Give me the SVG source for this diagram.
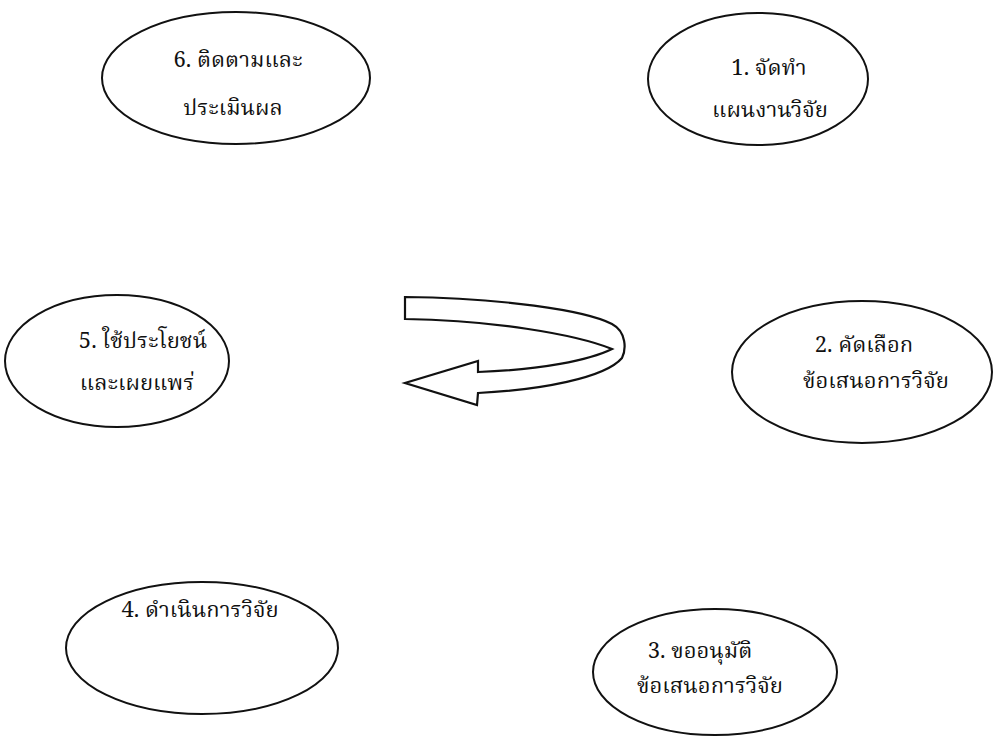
<svg xmlns="http://www.w3.org/2000/svg" width="994" height="736" viewBox="0 0 994 736">
<style>
.node ellipse{fill:#fff;stroke:#111;stroke-width:2}
.node text{font-family:"Noto Serif Thai","Noto Sans Thai","Loma","Garuda","Noto Sans","DejaVu Sans",sans-serif;font-size:22px;fill:#111;text-anchor:middle}
.arrow{fill:#fff;stroke:#111;stroke-width:2.2;stroke-linejoin:miter}
</style>
<rect width="994" height="736" fill="#fff"/>
<g id="node6" class="node">
<ellipse cx="236" cy="78" rx="134" ry="66"/>
<text x="238" y="67">6. ติดตามและ</text>
<text x="233" y="115">ประเมินผล</text>
</g>
<g id="node1" class="node">
<ellipse cx="758" cy="79" rx="110" ry="66"/>
<text x="769" y="75">1. จัดทำ</text>
<text x="770" y="117">แผนงานวิจัย</text>
</g>
<g id="node5" class="node">
<ellipse cx="117" cy="361" rx="112" ry="66"/>
<text x="143" y="348">5. ใช้ประโยชน์</text>
<text x="137" y="390">และเผยแพร่</text>
</g>
<g id="node2" class="node">
<ellipse cx="862" cy="372" rx="130" ry="71"/>
<text x="864" y="352">2. คัดเลือก</text>
<text x="876" y="388">ข้อเสนอการวิจัย</text>
</g>
<g id="node4" class="node">
<ellipse cx="202" cy="648" rx="136" ry="66"/>
<text x="200" y="617">4. ดำเนินการวิจัย</text>
</g>
<g id="node3" class="node">
<ellipse cx="715" cy="672" rx="122" ry="63"/>
<text x="700" y="658">3. ขออนุมัติ</text>
<text x="710" y="693">ข้อเสนอการวิจัย</text>
</g>
<g id="connectors">
<path class="arrow" d="M405,297 C500,298 585,310 612,324 C627,332 626,350 622,358 C605,378 540,390 478,393 L477,405 L405,383 L478,361 L478,372 C540,370 590,360 612,349 C575,334 490,320 405,319 Z"/>
</g>
</svg>
